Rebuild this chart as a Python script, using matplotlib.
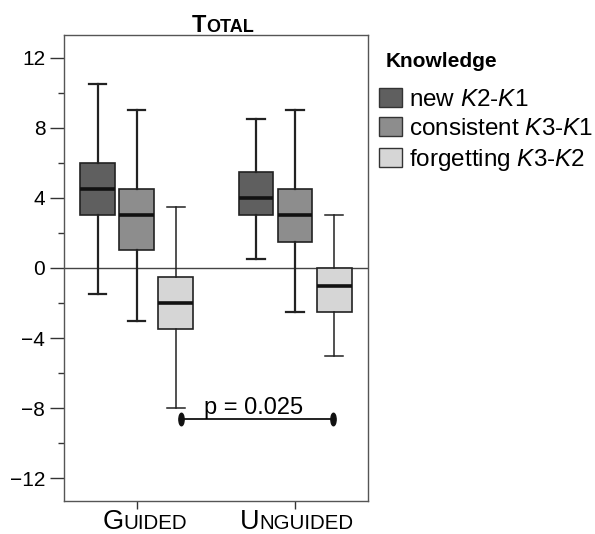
import numpy as np
import matplotlib
matplotlib.use('Agg')
import matplotlib.pyplot as plt
from matplotlib.patches import Patch
from matplotlib.path import Path
from matplotlib.transforms import Affine2D
from matplotlib.offsetbox import TextArea, HPacker, AnnotationBbox

plt.rcParams['font.family'] = ['Liberation Sans', 'DejaVu Sans']
plt.rcParams['mathtext.fontset'] = 'custom'
plt.rcParams['mathtext.rm'] = 'Liberation Sans'
plt.rcParams['mathtext.it'] = 'Liberation Sans:italic'

# data
groups = ['Guided', 'Unguided']
series = ['new', 'consistent', 'forgetting']
series_labels = [r'new $\mathit{K2}$-$\mathit{K1}$',
                 r'consistent $\mathit{K3}$-$\mathit{K1}$',
                 r'forgetting $\mathit{K3}$-$\mathit{K2}$']
# per group, per series: (whislo, q1, med, q3, whishi)
guided = [(-1.5, 3.0, 4.5, 6.0, 10.5),
          (-3.0, 1.0, 3.0, 4.5, 9.0),
          (-8.0, -3.5, -2.0, -0.5, 3.5)]
unguided = [(0.5, 3.0, 4.0, 5.5, 8.5),
            (-2.5, 1.5, 3.0, 4.5, 9.0),
            (-5.0, -2.5, -1.0, 0.0, 3.0)]
yticks = [-12, -8, -4, 0, 4, 8, 12]
sig_x = [0.28, 1.24]
sig_y = -8.6
sig_text = 'p = 0.025'

colors = ['#5f5f5f', '#8d8d8d', '#d6d6d6']
offset = 0.247
width = 0.22

fig = plt.figure(figsize=(5.95, 5.34), dpi=100)
ax = fig.add_axes([0.1076, 0.0618, 0.511, 0.8727])

for gi, stats in enumerate([guided, unguided]):
    for si, (lo, q1, med, q3, hi) in enumerate(stats):
        pos = gi + (si - 1) * offset
        d = dict(whislo=lo, q1=q1, med=med, q3=q3, whishi=hi, fliers=[])
        lw = 1.6 if si < 2 else 1.1
        ax.bxp([d], positions=[pos], widths=width, capwidths=width * 0.5,
               patch_artist=True, showfliers=False,
               boxprops=dict(facecolor=colors[si], edgecolor='#222222', linewidth=1.2),
               medianprops=dict(color='#111111', linewidth=2.6),
               whiskerprops=dict(color='#222222', linewidth=lw),
               capprops=dict(color='#222222', linewidth=lw))

ax.axhline(0, color='#444444', linewidth=1.0, zorder=0)

ax.set_xlim(-0.459, 1.461)
ax.set_ylim(-13.3, 13.3)
ax.set_yticks(yticks)
ax.set_yticks(np.arange(-10, 11, 4), minor=True)
ax.tick_params(axis='y', which='major', length=10, width=1, labelsize=15, colors='#333333', labelcolor='black')
ax.tick_params(axis='y', which='minor', length=4, width=1, colors='#333333')
ax.set_xticks([0, 1])
ax.set_xticklabels([])
ax.tick_params(axis='x', length=6, width=1, colors='#333333')
for s in ax.spines.values():
    s.set_color('#555555')
    s.set_linewidth(1.0)

# significance bar
ell = Path.unit_circle().transformed(Affine2D().scale(0.42, 1.0))
ax.plot(sig_x, [sig_y, sig_y], color='#111111', linewidth=1.3,
        marker=ell, markersize=9, markerfacecolor='#111111', markeredgecolor='#111111')
ax.text(np.mean(sig_x) - 0.02, sig_y + 0.27, sig_text, ha='center', va='baseline', fontsize=17)


def small_caps(word, big, small, bold=False):
    w = 'bold' if bold else 'normal'
    parts = [TextArea(word[0], textprops=dict(fontsize=big, fontweight=w)),
             TextArea(word[1:].upper(), textprops=dict(fontsize=small, fontweight=w))]
    return HPacker(children=parts, align='baseline', pad=0, sep=0)


for i, g in enumerate(groups):
    ab = AnnotationBbox(small_caps(g, 19.5, 14.8), (i + (0.05 if i == 0 else 0.01), 0),
                        xycoords=('data', 'axes fraction'), box_alignment=(0.5, 1),
                        xybox=(0, -6), boxcoords='offset points', frameon=False, pad=0)
    ax.add_artist(ab)

title = AnnotationBbox(small_caps('Total', 17, 13, bold=True), (0.523, 1.0),
                       xycoords='axes fraction', box_alignment=(0.5, 0),
                       xybox=(0, -1.5), boxcoords='offset points', frameon=False, pad=0)
ax.add_artist(title)

# legend
fig.text(386 / 595, 1 - 67 / 534, 'Knowledge', fontsize=15, fontweight='bold',
         ha='left', va='baseline')
handles = [Patch(facecolor=c, edgecolor='#333333', linewidth=1.0) for c in colors]
leg = fig.legend(handles, series_labels, loc='upper left', bbox_to_anchor=(0.637, 0.8355),
                 frameon=False, fontsize=17.5,
                 handlelength=0.94, handleheight=0.82, handletextpad=0.3,
                 labelspacing=0.27, borderaxespad=0, borderpad=0)

fig.savefig('out.png', dpi=100)
